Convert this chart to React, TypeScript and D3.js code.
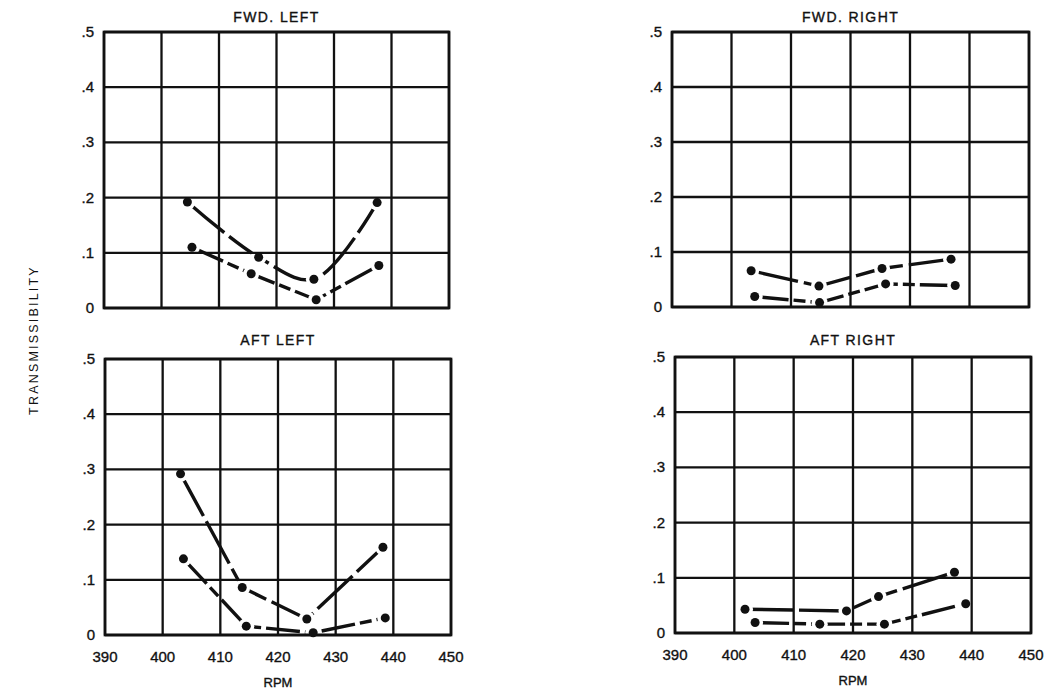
import React from "react";
import * as d3 from "d3";

const rpmTicks = [390, 400, 410, 420, 430, 440, 450];
const yTicks = [0, 0.1, 0.2, 0.3, 0.4, 0.5];
const yTickLabels = ["0", ".1", ".2", ".3", ".4", ".5"];
const panelTitles = ["FWD. LEFT", "FWD. RIGHT", "AFT LEFT", "AFT RIGHT"];
const yAxisTitle = "TRANSMISSIBILITY";
const xAxisTitle = "RPM";

// FWD. LEFT
const fwdLeftUpperRpm = [404.5, 416.9, 426.5, 437.5];
const fwdLeftUpperVal = [0.192, 0.092, 0.052, 0.191];
const fwdLeftLowerRpm = [405.3, 415.6, 426.9, 437.8];
const fwdLeftLowerVal = [0.11, 0.062, 0.015, 0.077];
// FWD. RIGHT
const fwdRightUpperRpm = [403.3, 414.7, 425.3, 436.9];
const fwdRightUpperVal = [0.066, 0.038, 0.07, 0.087];
const fwdRightLowerRpm = [403.9, 414.8, 425.9, 437.6];
const fwdRightLowerVal = [0.019, 0.008, 0.042, 0.039];
// AFT LEFT
const aftLeftUpperRpm = [403.1, 413.8, 425.0, 438.2];
const aftLeftUpperVal = [0.292, 0.086, 0.029, 0.159];
const aftLeftLowerRpm = [403.6, 414.5, 426.1, 438.6];
const aftLeftLowerVal = [0.138, 0.016, 0.004, 0.031];
// AFT RIGHT
const aftRightUpperRpm = [401.8, 418.9, 424.3, 437.1];
const aftRightUpperVal = [0.043, 0.04, 0.066, 0.11];
const aftRightLowerRpm = [403.5, 414.4, 425.3, 439.0];
const aftRightLowerVal = [0.019, 0.016, 0.016, 0.053];

const seriesData = [
  [[fwdLeftUpperRpm, fwdLeftUpperVal], [fwdLeftLowerRpm, fwdLeftLowerVal]],
  [[fwdRightUpperRpm, fwdRightUpperVal], [fwdRightLowerRpm, fwdRightLowerVal]],
  [[aftLeftUpperRpm, aftLeftUpperVal], [aftLeftLowerRpm, aftLeftLowerVal]],
  [[aftRightUpperRpm, aftRightUpperVal], [aftRightLowerRpm, aftRightLowerVal]],
];

// panel frames in pixels: left, right, bottom, top
const frames = [
  { l: 104, r: 449, b: 308, t: 32, xLabels: false, labelY: 22 },
  { l: 672, r: 1029, b: 307, t: 32, xLabels: false, labelY: 22 },
  { l: 105, r: 451, b: 635, t: 359, xLabels: true, labelY: 345 },
  { l: 675, r: 1031, b: 633, t: 357, xLabels: true, labelY: 345 },
];

const FONT = "'Liberation Sans', Arial, Helvetica, sans-serif";
const dashes = ["48 6", "34 5 12 5"];

function Panel({ idx }: { idx: number }) {
  const f = frames[idx];
  const x = d3.scaleLinear().domain([390, 450]).range([f.l, f.r]);
  const y = d3.scaleLinear().domain([0, 0.5]).range([f.b, f.t]);
  const series = seriesData[idx].map(([r, v]) => r.map((rr, i) => [rr, v[i]] as [number, number]));
  const curveFor = (i: number) => (idx === 0 && i === 0 ? d3.curveCatmullRom.alpha(0.5) : d3.curveLinear);
  const maskId = `m${idx}`;
  const txt = { fontFamily: FONT, fill: "#111", stroke: "#111", strokeWidth: 0.35 };
  return (
    <g>
      <defs>
        <mask id={maskId} maskUnits="userSpaceOnUse" x={0} y={0} width={1050} height={691}>
          <rect x={0} y={0} width={1050} height={691} fill="white" />
          {series.flat().map((p, i) => (
            <circle key={i} cx={x(p[0])} cy={y(p[1])} r={8} fill="black" />
          ))}
        </mask>
      </defs>
      {rpmTicks.map((t) => (
        <line key={"v" + t} x1={x(t)} x2={x(t)} y1={f.t} y2={f.b} stroke="#111" strokeWidth={2.3} />
      ))}
      {yTicks.map((t) => (
        <line key={"h" + t} x1={f.l} x2={f.r} y1={y(t)} y2={y(t)} stroke="#111" strokeWidth={2.3} />
      ))}
      <rect x={f.l} y={f.t} width={f.r - f.l} height={f.b - f.t} fill="none" stroke="#111" strokeWidth={2.7} />
      {yTicks.map((t, i) => (
        <text key={"yl" + t} x={f.l - 10} y={y(t) + 5} textAnchor="end" fontSize={15} {...txt}>
          {yTickLabels[i]}
        </text>
      ))}
      {f.xLabels &&
        rpmTicks.map((t) => (
          <text key={"xl" + t} x={x(t)} y={f.b + 27} textAnchor="middle" fontSize={15} {...txt}>
            {t}
          </text>
        ))}
      {f.xLabels && (
        <text x={(f.l + f.r) / 2} y={f.b + 52} textAnchor="middle" fontSize={13} {...txt}>
          {xAxisTitle}
        </text>
      )}
      <text x={(f.l + f.r) / 2} y={f.labelY} textAnchor="middle" fontSize={14} letterSpacing={1.4} {...txt}>
        {panelTitles[idx]}
      </text>
      <g mask={`url(#${maskId})`}>
        {series.map((s, i) => {
          const line = d3
            .line<[number, number]>()
            .x((d) => x(d[0]))
            .y((d) => y(d[1]))
            .curve(curveFor(i));
          return (
            <path key={i} d={line(s) || ""} fill="none" stroke="#111" strokeWidth={3.4} strokeDasharray={dashes[i]} />
          );
        })}
      </g>
      {series.flat().map((p, i) => (
        <circle key={"c" + i} cx={x(p[0])} cy={y(p[1])} r={4.5} fill="#111" />
      ))}
    </g>
  );
}

export default function App() {
  return (
    <svg width={1050} height={691} style={{ position: "absolute", left: 0, top: 0, background: "white" }}>
      <rect x={0} y={0} width={1050} height={691} fill="white" />
      {[0, 1, 2, 3].map((i) => (
        <Panel key={i} idx={i} />
      ))}
      <text
        transform="translate(38,340) rotate(-90)"
        textAnchor="middle"
        fontSize={12.5}
        letterSpacing={2.2}
        fontFamily={FONT}
        fill="#111"
      >
        {yAxisTitle}
      </text>
    </svg>
  );
}
